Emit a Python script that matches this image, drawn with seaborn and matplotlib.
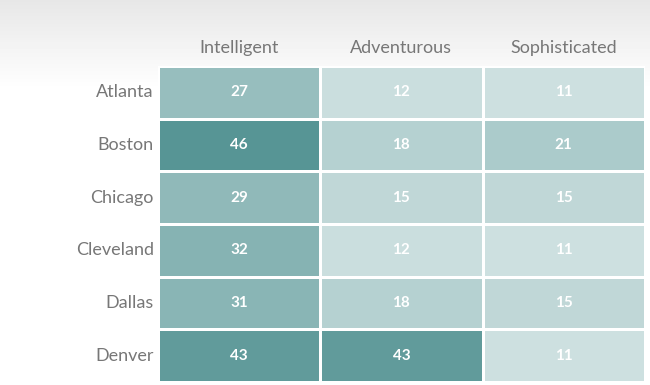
"""Heatmap of city trait counts, recreated with seaborn."""
import numpy as np
import pandas as pd
import matplotlib
matplotlib.use('Agg')
import matplotlib.pyplot as plt
from matplotlib.colors import LinearSegmentedColormap
import seaborn as sns

cities = ['Atlanta', 'Boston', 'Chicago', 'Cleveland', 'Dallas', 'Denver']
traits = ['Intelligent', 'Adventurous', 'Sophisticated']
intelligent = [27, 46, 29, 32, 31, 43]
adventurous = [12, 18, 15, 12, 18, 43]
sophisticated = [11, 21, 15, 11, 15, 11]

df = pd.DataFrame({'Intelligent': intelligent,
                   'Adventurous': adventurous,
                   'Sophisticated': sophisticated}, index=cities)[traits]

plt.rcParams['font.family'] = ['Lato', 'DejaVu Sans']

fig = plt.figure(figsize=(6.5, 3.85), dpi=100)

# soft grey-to-white background fade at the top
bg = fig.add_axes([0, 0, 1, 1], zorder=-1)
grad = np.ones((385, 1))
fade = np.linspace(0, 1, 90)
grad[:90, 0] = 0.905 + (1 - 0.905) * fade
bg.imshow(grad, aspect='auto', cmap='gray', vmin=0, vmax=1, extent=[0, 1, 0, 1])
bg.axis('off')

cmap = LinearSegmentedColormap.from_list('teal', ['#cde0e0', '#579595'])
ax = fig.add_axes([0.243, 0.008, 0.749, 0.821])
sns.heatmap(df, ax=ax, cmap=cmap, vmin=11, vmax=46, cbar=False,
            annot=True, fmt='d', linewidths=2, linecolor='white',
            annot_kws={'color': 'white', 'fontsize': 11, 'fontweight': 'bold'})

ax.xaxis.tick_top()
ax.tick_params(length=0, pad=7, labelsize=13, colors='#777777')
ax.tick_params(axis='y', pad=3)
ax.set_xlabel('')
ax.set_ylabel('')
plt.setp(ax.get_yticklabels(), rotation=0)

fig.savefig('out.png', dpi=100)
